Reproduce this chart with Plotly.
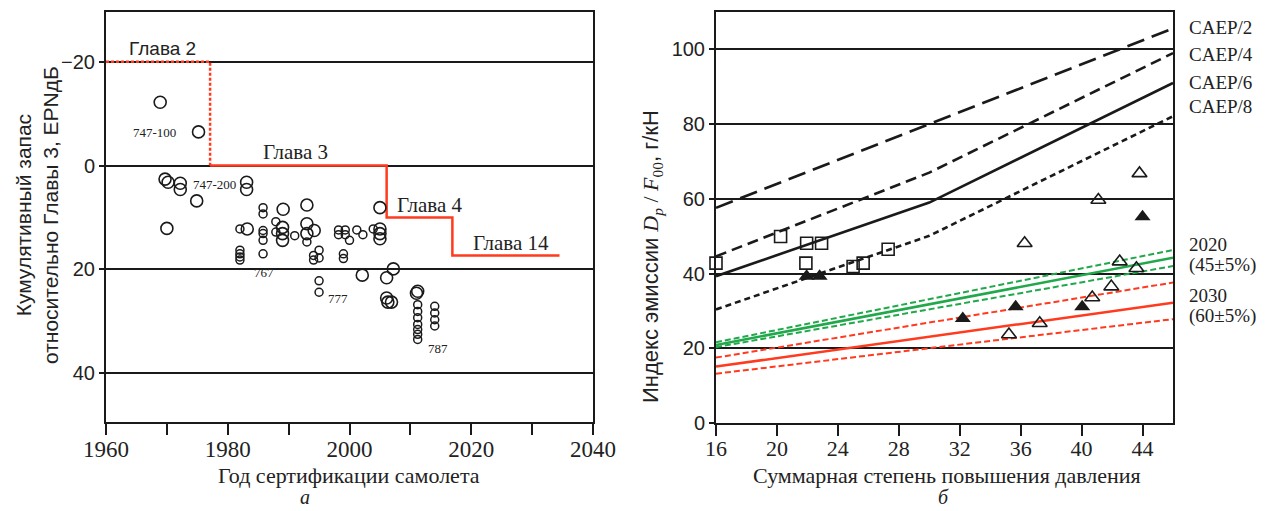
import plotly.graph_objects as go

# page body has an 8px margin: figure is drawn 8px right/down of the window origin
OFF = 8
W, H = 1266 - OFF, 511 - OFF

# ---------------- Left panel data (a) ----------------
big_year = [1968.9, 1975.2, 1969.7, 1970.2, 1972.2, 1972.2, 1983.1, 1983.1, 1974.9, 1970.0,
            2005.0, 1989.1, 1993.0, 1983.2, 1989.0, 1989.0, 1989.0, 1993.0, 1993.0, 1994.2,
            2005.0, 2005.0, 2005.0, 2002.1, 2006.1, 2007.2, 2006.1, 2006.9, 2006.3, 2011.0, 2011.2]
big_margin = [-12.2, -6.5, 2.6, 3.2, 3.4, 4.6, 3.2, 4.6, 6.8, 12.1,
              8.1, 8.4, 7.6, 12.2, 11.9, 13.1, 14.4, 11.2, 13.1, 12.5,
              12.2, 13.1, 14.1, 21.1, 21.6, 19.9, 25.5, 26.3, 26.3, 24.6, 24.2]

small_year = [1985.8, 1985.8, 1982.0, 1985.8, 1985.8, 1985.8, 1985.8, 1987.9, 1987.9, 1991.0,
              1993.0, 1994.1, 1994.1, 1995.0, 1995.0, 1995.0, 1995.0,
              1998.2, 1998.2, 1999.3, 1999.3, 2000.0, 2001.2, 2002.2, 1999.0, 1999.0, 2003.9,
              1982.0, 1982.0, 1982.0, 1982.0,
              2011.2, 2011.2, 2011.2, 2011.2, 2011.2, 2011.2, 2011.2,
              2014.0, 2014.0, 2014.0, 2014.0]
small_margin = [8.1, 9.3, 12.2, 12.5, 13.1, 14.4, 17.0, 10.8, 12.8, 13.5,
                14.7, 17.3, 18.2, 16.3, 17.8, 22.2, 24.4,
                12.4, 13.3, 12.4, 13.3, 14.4, 12.4, 13.3, 17.0, 17.9, 12.2,
                16.3, 17.0, 17.6, 18.2,
                26.8, 28.1, 29.3, 30.6, 31.6, 32.5, 33.5,
                27.1, 28.4, 29.7, 30.9]

ch2_year = [1960, 1977.1, 1977.1]
ch2_limit = [-20, -20, 0]
ch_year = [1977.1, 2006.1, 2006.1, 2016.9, 2016.9, 2034.5]
ch_limit = [0, 0, 10, 10, 17.3, 17.3]

left_xticks = [1960, 1980, 2000, 2020, 2040]
left_xminor = [1970, 1990, 2010, 2030]
left_yticks = [-20, 0, 20, 40]
left_ytext = ["\u221220", "0", "20", "40"]

# ---------------- Right panel data (б) ----------------
opr = [16, 30, 46]
caep2 = [57.6, 80.0, 105.6]
caep4 = [44.6, 67.0, 99.0]
caep6 = [39.3, 59.0, 91.0]
caep8 = [30.4, 50.1, 82.1]

goal_opr = [16, 46]
g2020 = [20.9, 44.2]
g2020_hi = [21.6, 46.3]
g2020_lo = [20.3, 42.0]
g2030 = [15.1, 32.2]
g2030_hi = [17.5, 37.6]
g2030_lo = [13.2, 27.8]

sq_opr = [16.0, 20.24, 21.95, 22.93, 21.9, 25.0, 25.66, 27.3]
sq_ei = [42.8, 49.9, 48.1, 48.1, 42.8, 41.9, 42.8, 46.5]

ft_opr = [21.95, 22.8, 32.2, 35.67, 40.04, 44.0]
ft_ei = [39.3, 39.3, 28.0, 31.1, 31.1, 55.2]

ot_opr = [43.8, 41.1, 36.26, 42.5, 43.6, 41.95, 40.7, 37.25, 35.23]
ot_ei = [66.8, 59.7, 48.1, 43.2, 41.4, 36.5, 33.6, 26.7, 23.7]

right_xticks = [16, 20, 24, 28, 32, 36, 40, 44]
right_yticks = [0, 20, 40, 60, 80, 100]

RED = "#ff3a1e"
GREEN = "#20a84a"
INK = "#1a1a1a"
SERIF = "Liberation Serif, Times New Roman, serif"
SANS = "Liberation Sans, Arial, sans-serif"


def PX(x):
    return (x - OFF) / W


def PY(y):
    return 1 - (y - OFF) / H


fig = go.Figure()

# left panel
fig.add_trace(go.Scatter(x=ch2_year, y=ch2_limit, mode="lines", xaxis="x", yaxis="y",
                         line=dict(color=RED, width=2.5, dash="3px,2px"), showlegend=False))
fig.add_trace(go.Scatter(x=ch_year, y=ch_limit, mode="lines", xaxis="x", yaxis="y",
                         line=dict(color=RED, width=2.5), showlegend=False))
fig.add_trace(go.Scatter(x=big_year, y=big_margin, mode="markers", xaxis="x", yaxis="y",
                         marker=dict(symbol="circle-open", size=12, color=INK, line=dict(width=1.6)),
                         showlegend=False))
fig.add_trace(go.Scatter(x=small_year, y=small_margin, mode="markers", xaxis="x", yaxis="y",
                         marker=dict(symbol="circle-open", size=8, color=INK, line=dict(width=1.5)),
                         showlegend=False))

# right panel lines
for ys, dash in [(caep2, "18px,8px"), (caep4, "11px,6px"), (caep6, "solid"), (caep8, "6px,4px")]:
    fig.add_trace(go.Scatter(x=opr, y=ys, mode="lines", xaxis="x2", yaxis="y2",
                             line=dict(color=INK, width=2.6, dash=dash), showlegend=False))

for ys, col, dash, w in [(g2020_hi, GREEN, "6px,3px", 2), (g2020_lo, GREEN, "6px,3px", 2),
                         (g2020, GREEN, "solid", 2.5),
                         (g2030_hi, RED, "6px,3px", 2), (g2030_lo, RED, "6px,3px", 2),
                         (g2030, RED, "solid", 2.5)]:
    fig.add_trace(go.Scatter(x=goal_opr, y=ys, mode="lines", xaxis="x2", yaxis="y2",
                             line=dict(color=col, width=w, dash=dash), showlegend=False))

fig.add_trace(go.Scatter(x=sq_opr, y=sq_ei, mode="markers", xaxis="x2", yaxis="y2", cliponaxis=False,
                         marker=dict(symbol="square-open", size=12, color=INK, line=dict(width=1.6)),
                         showlegend=False))
fig.add_trace(go.Scatter(x=ft_opr, y=ft_ei, mode="markers", xaxis="x2", yaxis="y2",
                         marker=dict(symbol="triangle-up", size=14, color=INK),
                         showlegend=False))
fig.add_trace(go.Scatter(x=ot_opr, y=ot_ei, mode="markers", xaxis="x2", yaxis="y2",
                         marker=dict(symbol="triangle-up-open", size=13, color=INK, line=dict(width=1.6)),
                         showlegend=False))

ytickfont = dict(family=SANS, size=20, color="#222")
axcommon = dict(showline=True, linecolor=INK, linewidth=2, mirror=True, zeroline=False,
                tickcolor=INK, automargin=False)

fig.update_layout(
    width=W, height=H, margin=dict(l=0, r=0, t=0, b=0),
    paper_bgcolor="white", plot_bgcolor="white",
    xaxis=dict(domain=[PX(106), PX(593)], range=[1960, 2040], tickvals=left_xticks,
               ticks="outside", ticklen=11, tickwidth=2, ticklabelstandoff=-6,
               tickfont=dict(family=SERIF, size=23, color="#222"),
               minor=dict(tickvals=left_xminor, ticks="outside", ticklen=11, tickwidth=2,
                          tickcolor=INK, showgrid=False),
               showgrid=False, anchor="y", **axcommon),
    yaxis=dict(domain=[PY(422), PY(12)], range=[49.4, -29.6], tickvals=left_yticks,
               ticktext=left_ytext, ticks="outside", ticklen=5, tickwidth=1.5, tickfont=ytickfont,
               showgrid=True, gridcolor=INK, gridwidth=1.5, anchor="x", **axcommon),
    xaxis2=dict(domain=[PX(716), PX(1173)], range=[16, 46], tickvals=right_xticks,
                ticks="outside", ticklen=11, tickwidth=2, ticklabelstandoff=-6,
                tickfont=dict(family=SERIF, size=22, color="#222"),
                showgrid=False, anchor="y2", **axcommon),
    yaxis2=dict(domain=[PY(423), PY(12)], range=[0, 110], tickvals=right_yticks,
                ticks="outside", ticklen=5, tickwidth=1.5, tickfont=ytickfont,
                showgrid=True, gridcolor=INK, gridwidth=1.5, anchor="x2", **axcommon),
)

ann = []


def add(text, x, y, size, family=SERIF, xanchor="center", angle=0):
    ann.append(dict(text=text, x=PX(x), y=PY(y), xref="paper", yref="paper", showarrow=False,
                    xanchor=xanchor, yanchor="middle", textangle=angle,
                    font=dict(family=family, size=size, color="#222")))


add("Глава 2", 162, 48, 19, SANS)
add("Глава 3", 295, 152, 21)
add("Глава 4", 430, 205, 21)
add("Глава 14", 511, 243, 21)
add("747-100", 154, 133, 13)
add("747-200", 215, 185, 13)
add("767", 264, 272, 13)
add("777", 338, 298, 13)
add("787", 438, 348, 13)
add("Кумулятивный запас<br>относительно Главы 3, EPNдБ", 37, 215, 21, SANS, angle=-90)
add("Год сертификации самолета", 349, 475, 22)
add("<i>а</i>", 305, 497, 20)
add("Суммарная степень повышения давления", 947, 475, 22)
add("<i>б</i>", 943, 497, 20)
ser = "font-family:'Liberation Serif'"
add("Индекс эмиссии <span style=\"%s\"><i>D</i><sub><i>p</i></sub> / <i>F</i><sub>00</sub></span>, г/кН" % ser,
    652, 257, 22, SANS, angle=-90)
for t, yy in [("CAEP/2", 28), ("CAEP/4", 55), ("CAEP/6", 82), ("CAEP/8", 107),
              ("2020", 244), ("(45±5%)", 265), ("2030", 295), ("(60±5%)", 316)]:
    add(t, 1187, yy, 19, xanchor="left")

fig.update_layout(annotations=ann)
fig.write_html("out.html")
